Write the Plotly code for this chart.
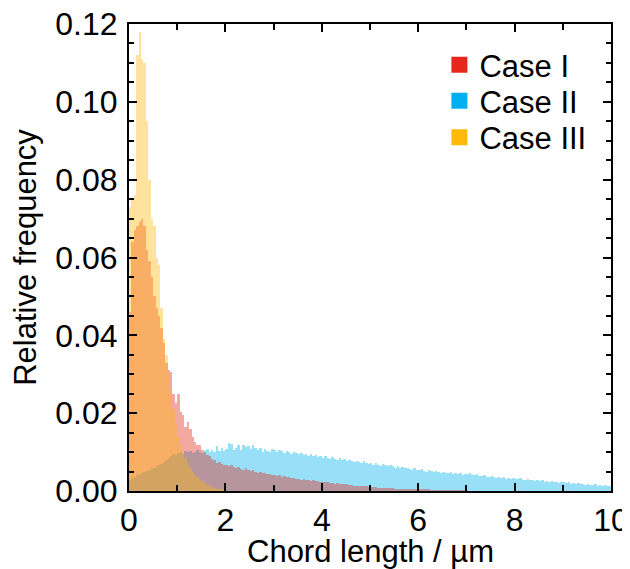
import plotly.graph_objects as go

# relative frequency per 0.05 µm bin, starting at 0
bin_width = 0.05

case1 = [
    0.046, 0.064, 0.067, 0.068, 0.069, 0.070, 0.068, 0.062, 0.059, 0.055,
    0.050, 0.047, 0.045, 0.042, 0.038, 0.033, 0.031, 0.0305, 0.025, 0.0226,
    0.025, 0.0204, 0.0195, 0.0165, 0.0178, 0.016, 0.014, 0.0127, 0.0117, 0.0118,
    0.0105, 0.0101, 0.0093, 0.0090, 0.0082, 0.0079, 0.0073, 0.0075, 0.0070, 0.0068,
    0.0067, 0.0064, 0.0066, 0.0061, 0.0059, 0.0062, 0.0057, 0.0055, 0.0058, 0.0053,
    0.0051, 0.0054, 0.0049, 0.0047, 0.0050, 0.0045, 0.0046, 0.0043, 0.0044, 0.0041,
    0.0042, 0.0039, 0.0040, 0.0037, 0.0038, 0.0035, 0.0036, 0.0033, 0.0034, 0.0031,
    0.0032, 0.0029, 0.0030, 0.0028, 0.0029, 0.0026, 0.0027, 0.0025, 0.0026, 0.0024,
    0.0024, 0.0022, 0.0023, 0.0021, 0.0021, 0.0019, 0.0020, 0.0018, 0.0018, 0.0017,
    0.0017, 0.0015, 0.0016, 0.0014, 0.0014, 0.0013, 0.0013, 0.0012, 0.0012, 0.0011,
    0.0011, 0.0010, 0.0010, 0.0009, 0.0009, 0.0008, 0.0008, 0.0008, 0.0007, 0.0007,
    0.0006, 0.0006, 0.0006, 0.0005, 0.0005, 0.0005, 0.0004, 0.0004, 0.0004, 0.0004,
    0.0003, 0.0003, 0.0003, 0.0003, 0.0003, 0.0002, 0.0002, 0.0002, 0.0002, 0.0002,
    0.0002, 0.0002, 0.0001, 0.0001, 0.0001, 0.0001, 0.0001, 0.0001, 0.0001, 0.0001,
]

case2 = [
    0.0028, 0.0033, 0.0036, 0.0040, 0.0043, 0.0047, 0.0050, 0.0052, 0.0055, 0.0058,
    0.0060, 0.0063, 0.0066, 0.0070, 0.0075, 0.0080, 0.0086, 0.0090, 0.0095, 0.0092,
    0.0097, 0.0100, 0.0096, 0.0102, 0.0099, 0.0104, 0.0098, 0.0101, 0.0106, 0.0100,
    0.0097, 0.0103, 0.0108, 0.0101, 0.0105, 0.0099, 0.0115, 0.0104, 0.0110, 0.0102,
    0.0108, 0.0123, 0.0121, 0.0106, 0.0110, 0.0118, 0.0105, 0.0117, 0.0112, 0.0115,
    0.0109, 0.0118, 0.0111, 0.0106, 0.0110, 0.0101, 0.0107, 0.0103, 0.0100, 0.0108,
    0.0105, 0.0099, 0.0106, 0.0102, 0.0097, 0.0104, 0.0100, 0.0096, 0.0101, 0.0098,
    0.0094, 0.0097, 0.0093, 0.0096, 0.0091, 0.0094, 0.0089, 0.0092, 0.0088, 0.0090,
    0.0086, 0.0090, 0.0084, 0.0081, 0.0087, 0.0083, 0.0079, 0.0084, 0.0080, 0.0082,
    0.0077, 0.0080, 0.0076, 0.0074, 0.0078, 0.0075, 0.0072, 0.0076, 0.0073, 0.0070,
    0.0072, 0.0068, 0.0071, 0.0067, 0.0064, 0.0069, 0.0066, 0.0063, 0.0067, 0.0064,
    0.0060, 0.0063, 0.0059, 0.0062, 0.0058, 0.0060, 0.0056, 0.0055, 0.0058, 0.0055,
    0.0053, 0.0056, 0.0052, 0.0050, 0.0054, 0.0051, 0.0049, 0.0052, 0.0048, 0.0047,
    0.0050, 0.0047, 0.0045, 0.0048, 0.0044, 0.0046, 0.0043, 0.0045, 0.0042, 0.0044,
    0.0043, 0.0045, 0.0041, 0.0040, 0.0043, 0.0039, 0.0038, 0.0041, 0.0037, 0.0036,
    0.0039, 0.0035, 0.0034, 0.0037, 0.0033, 0.0035, 0.0032, 0.0034, 0.0031, 0.0033,
    0.0032, 0.0030, 0.0033, 0.0029, 0.0028, 0.0031, 0.0027, 0.0029, 0.0026, 0.0028,
    0.0025, 0.0027, 0.0024, 0.0026, 0.0023, 0.0025, 0.0022, 0.0024, 0.0021, 0.0023,
    0.0022, 0.0020, 0.0022, 0.0019, 0.0021, 0.0018, 0.0020, 0.0017, 0.0019, 0.0016,
    0.0018, 0.0016, 0.0015, 0.0017, 0.0014, 0.0016, 0.0014, 0.0015, 0.0013, 0.0014,
]

case3 = [
    0.073, 0.075, 0.076, 0.112, 0.118, 0.111, 0.110, 0.095, 0.080, 0.070,
    0.068, 0.060, 0.058, 0.047, 0.039, 0.035, 0.030, 0.026, 0.021, 0.017,
    0.014, 0.012, 0.010, 0.0085, 0.007, 0.006, 0.005, 0.0042, 0.0036, 0.003,
    0.0025, 0.002, 0.0016, 0.0013, 0.001, 0.0008, 0.0006, 0.0004, 0.0003, 0.0002,
]

names = ["Case I", "Case II", "Case III"]
colors = ["#E6281A", "#00B0F0", "#FFB80C"]


def centers(vals):
    return [round(bin_width * (i + 0.5), 3) for i in range(len(vals))]


fig = go.Figure()
# blue underneath, then red, yellow on top
for k in [1, 0, 2]:
    vals = [case1, case2, case3][k]
    fig.add_trace(go.Bar(x=centers(vals), y=vals, width=bin_width,
                         marker=dict(color=colors[k], line=dict(width=0)),
                         opacity=0.4, showlegend=False))

font = dict(family="Liberation Sans, Arial, sans-serif", size=31, color="black")
tick_font = dict(font, size=32)

# one legend per entry so the rows sit as tight as in the original
legend_y = [0.912, 0.835, 0.757]
legends = {}
for k, (name, col) in enumerate(zip(names, colors)):
    lid = "legend" if k == 0 else "legend%d" % (k + 1)
    fig.add_trace(go.Scatter(x=[None], y=[None], mode="markers", name=name,
                             legend=lid,
                             marker=dict(symbol="square", size=17, color=col)))
    legends[lid] = dict(x=0.644, y=legend_y[k], xanchor="left", yanchor="middle",
                        bgcolor="rgba(0,0,0,0)", font=font)

axis = dict(showline=True, linecolor="black", linewidth=2, mirror="allticks",
            ticks="inside", tickcolor="black", tickwidth=2, ticklen=8,
            showgrid=False, zeroline=False, tickfont=tick_font, automargin=False,
            ticklabeloverflow="allow")

# page body adds 8 px, so the figure is 8 px smaller each way
fig.update_layout(
    width=622, height=561,
    margin=dict(l=121, r=19, t=16, b=78),
    barmode="overlay", bargap=0,
    plot_bgcolor="white", paper_bgcolor="white",
    font=font,
    **legends,
)
fig.update_xaxes(axis, range=[0, 10], dtick=2, tick0=0,
                 minor=dict(dtick=1, ticks="inside", ticklen=6, tickwidth=2,
                            tickcolor="black"))
fig.update_yaxes(axis, range=[0, 0.12], dtick=0.02, tickformat=".2f",
                 ticklabelstandoff=3,
                 minor=dict(dtick=0.005, ticks="inside", ticklen=5, tickwidth=2,
                            tickcolor="black"),
                 title=dict(text="Relative frequency", font=font, standoff=10))

# x title as an annotation so it can sit just under the tick labels
fig.add_annotation(text="Chord length / µm", xref="paper", yref="paper",
                   x=0.5, y=0, xanchor="center", yanchor="middle",
                   yshift=-60, showarrow=False, font=font, borderpad=0)

fig.write_html("out.html")
